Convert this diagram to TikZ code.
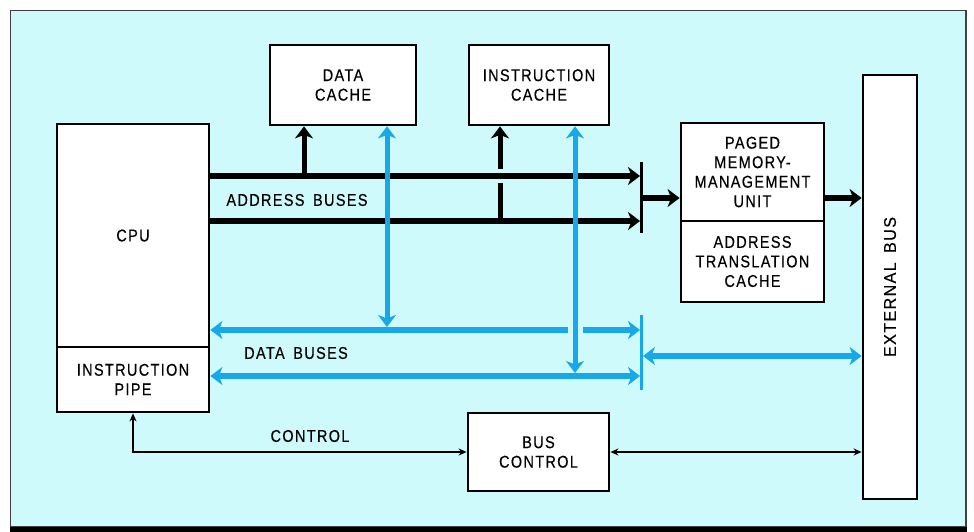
\documentclass[tikz,border=0pt]{standalone}
\usepackage{fontspec}
\newfontfamily\lblfont{Liberation Sans}[FakeStretch=0.85,LetterSpace=8,WordSpace=1.6,FakeBold=0.4]
\newfontfamily\extfont{Liberation Sans}[FakeStretch=0.95,LetterSpace=8,WordSpace=1.6,FakeBold=0.4]
\usetikzlibrary{arrows.meta,calc}
\definecolor{bgcyan}{RGB}{206,250,252}
\definecolor{busblue}{RGB}{22,168,232}
\tikzset{
  lbl/.style={font=\lblfont\fontsize{17}{19.5}\selectfont, align=center, inner sep=0pt},
  blk/.style={lbl, draw=black, fill=white, line width=2.8pt},
  busbar/.style={inner sep=0pt, minimum width=2.5pt, fill=#1},
  bigtip/.style={-{Stealth[length=12pt,width=18pt,inset=3.5pt]}},
  bigtips/.style={{Stealth[length=12pt,width=18pt,inset=3.5pt]}-{Stealth[length=12pt,width=18pt,inset=3.5pt]}},
  abus/.style={draw=black, line width=6pt},
  avert/.style={draw=black, line width=5pt},
  dbus/.style={draw=busblue, line width=6pt},
  dvert/.style={draw=busblue, line width=5pt},
  ctl/.style={draw=black, line width=1.5pt},
  smalltips/.style={{Stealth[length=8pt,width=7pt]}-{Stealth[length=8pt,width=7pt]}}
}
\begin{document}
\begin{tikzpicture}[x=1pt,y=-1pt]
\useasboundingbox (0,0) rectangle (974,532);
% frame
\fill[white] (0,0) rectangle (974,532);
\draw[fill=bgcyan, draw=black!75, line width=1.2pt] (10.5,10.5) rectangle (966,527);
\fill[black] (10,527) rectangle (967,532);

% boxes
\node[blk, minimum width=152pt, minimum height=223pt] (cpu) at (133,235.5) {CPU};
\node[blk, minimum width=152pt, minimum height=65pt] (pipe) at (133,379.5) {INSTRUCTION\\PIPE};
\node[blk, minimum width=146pt, minimum height=80pt] (dc) at (343,85) {DATA\\CACHE};
\node[blk, minimum width=140pt, minimum height=80pt] (ic) at (539,85) {INSTRUCTION\\CACHE};
\node[blk, minimum width=143pt, minimum height=98pt] (pmmu) at (752.5,172) {PAGED\\MEMORY-\\MANAGEMENT\\UNIT};
\node[blk, minimum width=143pt, minimum height=81pt] (atc) at (752.5,261.5) {ADDRESS\\TRANSLATION\\CACHE};
\node[blk, minimum width=54pt, minimum height=424pt] (ext) at (890,287) {};
\node[lbl, font=\extfont\fontsize{17}{19.5}\selectfont, rotate=90] (extl) at (ext.center) {EXTERNAL BUS};
\node[blk, minimum width=141pt, minimum height=78pt] (bc) at (538.5,452) {BUS\\CONTROL};

% bus bars
\node[busbar=black, minimum height=71pt] (abar) at (641.5,197.5) {};
\node[busbar=busblue, minimum height=75pt] (dbar) at (641.5,352.5) {};

% levels
\coordinate (yA1) at (0,176);
\coordinate (yA2) at (0,221);
\coordinate (yM) at (0,198);
\coordinate (yD1) at (0,330);
\coordinate (yD2) at (0,376);
\coordinate (yD3) at (0,356);
\coordinate (xD) at (304,0);
\coordinate (xI) at (500,0);
\coordinate (xBd) at (387,0);
\coordinate (xBi) at (575,0);

% address side
\draw[avert, bigtip] (xD |- yA1) -- (xD |- dc.south);
\draw[avert, bigtip] (xI |- yA2) -- (xI |- ic.south);
\fill[bgcyan] ($(xI |- yA1)+(-4,-7)$) rectangle ($(xI |- yA1)+(4,7)$);
\draw[abus, bigtip] (cpu.east |- yA1) -- (abar.west |- yA1);
\draw[abus, bigtip] (cpu.east |- yA2) -- (abar.west |- yA2);
\draw[abus, bigtip] (abar.east |- yM) -- (pmmu.west |- yM);
\draw[abus, bigtip] (pmmu.east |- yM) -- (ext.west |- yM);

% data side
\draw[dbus, bigtips] (cpu.east |- yD1) -- (dbar.west |- yD1);
\fill[bgcyan] ($(xBi |- yD1)+(-7.5,-4.5)$) rectangle ($(xBi |- yD1)+(7.5,4.5)$);
\draw[dbus, bigtips] (cpu.east |- yD2) -- (dbar.west |- yD2);
\draw[dvert, bigtips] (xBd |- dc.south) -- ($(xBd |- yD1)+(0,-3)$);
\draw[dvert, bigtips] (xBi |- ic.south) -- ($(xBi |- yD2)+(0,-3)$);
\draw[dbus, bigtips] (dbar.east |- yD3) -- (ext.west |- yD3);

% control
\draw[ctl, smalltips] (pipe.south) |- (bc.west);
\draw[ctl, smalltips] (bc.east) -- (ext.west |- bc.east);

% labels
\node[lbl] (albl) at (297,200) {ADDRESS BUSES};
\node[lbl] (dlbl) at (296,353) {DATA BUSES};
\node[lbl] (clbl) at (310,436) {CONTROL};
\end{tikzpicture}
\end{document}
